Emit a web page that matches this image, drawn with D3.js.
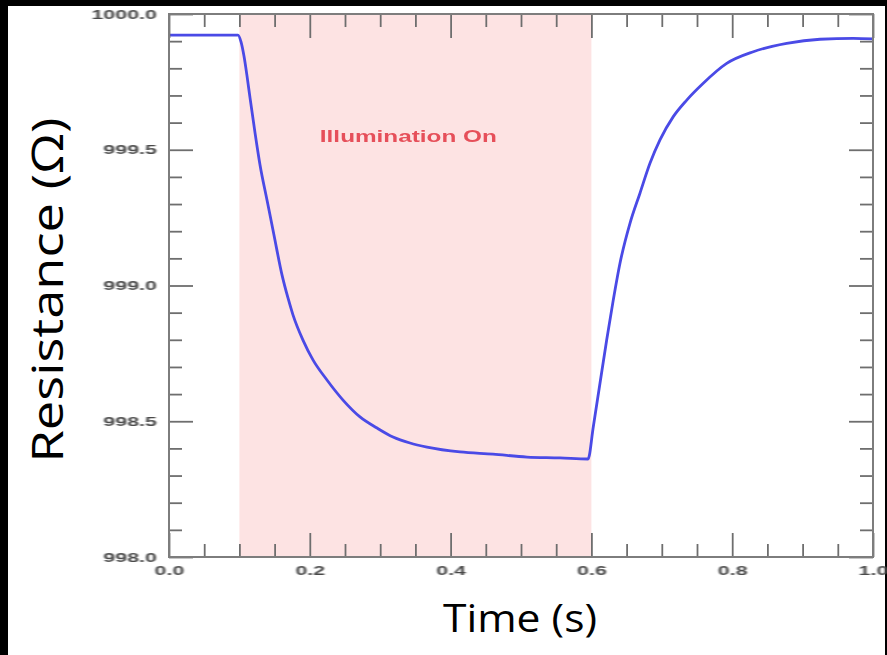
<!doctype html>
<html>
  <head>
    <title>Resistance vs time</title>
    <style>
      * { margin: 0; padding: 0; }
      html, body { background: #000; width: 887px; height: 655px; overflow: hidden; }
      svg { display: block; position: absolute; left: 0; top: 0; }
      .tick text { font-family: "Liberation Sans", Arial, sans-serif; font-size: 13px; font-weight: bold; fill: #4a4a4a; }
      .tick line { stroke: #6e6e6e; stroke-width: 1.8; }
    </style>
  </head>
  <body>
    <div id="main"></div>
  </body>
  <script src="https://d3js.org/d3.v7.min.js"></script>
<script>
    var width = 887
    var height = 655

    var timeVals = [0, 0.05, 0.098, 0.1023, 0.1065, 0.1108, 0.1151, 0.1222, 0.1293, 0.1392, 0.1491, 0.1605,
      0.169, 0.1761, 0.1903, 0.2045, 0.2244, 0.2472, 0.2713, 0.2955, 0.3182, 0.3423, 0.3665, 0.4134, 0.4602,
      0.5085, 0.5554, 0.5952,
      0.6027, 0.6122, 0.6217, 0.6311, 0.6406, 0.6548, 0.669, 0.6832, 0.6974, 0.7163, 0.7354, 0.7589, 0.7922,
      0.83, 0.8774, 0.9247, 0.972, 1.0]
    var resVals = [999.922, 999.922, 999.922, 999.897, 999.845, 999.772, 999.691, 999.562, 999.444, 999.315, 999.186, 999.039,
      998.954, 998.892, 998.799, 998.726, 998.652, 998.578, 998.516, 998.475, 998.442, 998.42, 998.405, 998.387, 998.379,
      998.368, 998.365, 998.361,
      998.48, 998.64, 998.799, 998.947, 999.082, 999.229, 999.34, 999.45, 999.536, 999.622, 999.683, 999.745, 999.818,
      999.861, 999.892, 999.907, 999.91, 999.908]

    var illumination = [0.1, 0.6]
    var xMajor = [0, 0.2, 0.4, 0.6, 0.8, 1.0]
    var xMinor = [0.05, 0.1, 0.15, 0.25, 0.3, 0.35, 0.45, 0.5, 0.55, 0.65, 0.7, 0.75, 0.85, 0.9, 0.95]
    var yMajor = [998.0, 998.5, 999.0, 999.5, 1000.0]
    var yMinor = [998.1, 998.2, 998.3, 998.4, 998.6, 998.7, 998.8, 998.9, 999.1, 999.2, 999.3, 999.4,
      999.6, 999.7, 999.8, 999.9]

    var stretch = 1.65

    var x = d3.scaleLinear().domain([0, 1]).range([169, 873])
    var y = d3.scaleLinear().domain([998, 1000]).range([557, 14])

    var svg = d3.select('#main').append('svg').attr('width', width).attr('height', height)

    svg.append('rect').attr('width', width).attr('height', height).attr('fill', '#000')
    svg.append('rect').attr('x', 8).attr('y', 6).attr('width', 877).attr('height', 649).attr('fill', '#fff')

    var defs = svg.append('defs')
    defs.append('filter').attr('id', 'soft')
      .append('feGaussianBlur').attr('stdDeviation', 0.55)

    // illumination band
    svg.append('rect')
      .attr('x', x(illumination[0]))
      .attr('y', y(1000))
      .attr('width', x(illumination[1]) - x(illumination[0]))
      .attr('height', y(998) - y(1000))
      .attr('fill', '#fde3e3')

    svg.append('text')
      .attr('x', x(0.34))
      .attr('y', y(999.53))
      .attr('text-anchor', 'middle')
      .attr('textLength', 177)
      .attr('lengthAdjust', 'spacingAndGlyphs')
      .style('font-family', '"Liberation Sans", Arial, sans-serif')
      .style('font-size', '17px')
      .style('font-weight', 'bold')
      .attr('fill', '#e6505a')
      .attr('filter', 'url(#soft)')
      .text('Illumination On')

    var points = timeVals.map(function(t, i){ return [t, resVals[i]] })
    var line = d3.line()
      .x(function(d){ return x(d[0]) })
      .y(function(d){ return y(d[1]) })
      .curve(d3.curveMonotoneX)

    svg.append('path')
      .datum(points)
      .attr('d', line)
      .attr('fill', 'none')
      .attr('stroke', '#4a4ae6')
      .attr('stroke-width', 2.8)
      .attr('stroke-linejoin', 'round')

    var fmt = d3.format('.1f')

    function addAxis(axis, tx, ty){
      var g = svg.append('g').attr('transform', 'translate(' + tx + ',' + ty + ')').call(axis)
      g.select('.domain').remove()
      return g
    }

    // bottom
    var bottom = addAxis(d3.axisBottom(x).tickValues(xMajor).tickSize(-24).tickPadding(9).tickFormat(fmt), 0, 557)
    addAxis(d3.axisBottom(x).tickValues(xMinor).tickSize(-13).tickFormat(''), 0, 557)
    bottom.selectAll('text').attr('transform', 'scale(' + stretch + ',1)').attr('filter', 'url(#soft)')

    // top
    addAxis(d3.axisTop(x).tickValues(xMajor).tickSize(-24).tickFormat(''), 0, 14)
    addAxis(d3.axisTop(x).tickValues(xMinor).tickSize(-13).tickFormat(''), 0, 14)

    // left
    var left = addAxis(d3.axisLeft(y).tickValues(yMajor).tickSize(-24).tickFormat(fmt), 169, 0)
    addAxis(d3.axisLeft(y).tickValues(yMinor).tickSize(-13).tickFormat(''), 169, 0)
    left.selectAll('text')
      .attr('x', -12 / stretch)
      .attr('transform', 'scale(' + stretch + ',1)')
      .attr('filter', 'url(#soft)')

    // right
    addAxis(d3.axisRight(y).tickValues(yMajor).tickSize(-24).tickFormat(''), 873, 0)
    addAxis(d3.axisRight(y).tickValues(yMinor).tickSize(-13).tickFormat(''), 873, 0)

    svg.append('rect')
      .attr('x', 169).attr('y', 14)
      .attr('width', 873 - 169).attr('height', 557 - 14)
      .attr('fill', 'none')
      .attr('stroke', '#7d7d7d')
      .attr('stroke-width', 2)

    // axis titles
    svg.append('text')
      .attr('x', 520).attr('y', 632)
      .attr('text-anchor', 'middle')
      .attr('textLength', 154)
      .attr('lengthAdjust', 'spacingAndGlyphs')
      .style('font-family', '"Open Sans", sans-serif')
      .style('font-size', '38px')
      .text('Time (s)')

    svg.append('text')
      .attr('transform', 'translate(63,290) rotate(-90)')
      .attr('text-anchor', 'middle')
      .attr('textLength', 345)
      .attr('lengthAdjust', 'spacingAndGlyphs')
      .style('font-family', '"Open Sans", sans-serif')
      .style('font-size', '43px')
      .text('Resistance (Ω)')
</script>
</html>
